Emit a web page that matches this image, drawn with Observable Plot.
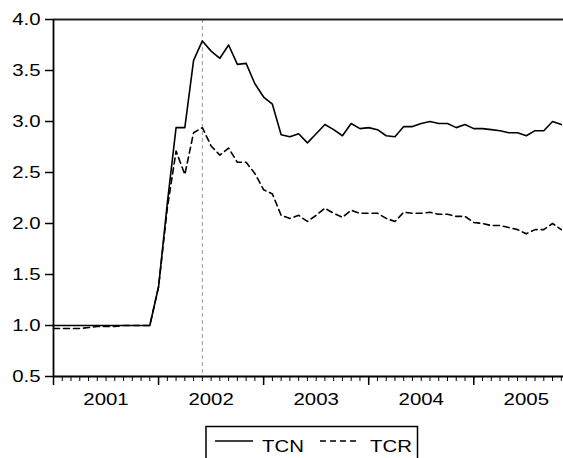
<!DOCTYPE html>
<html>
<head>
<meta charset="utf-8">
<script src="https://cdn.jsdelivr.net/npm/d3@7"></script>
<script src="https://cdn.jsdelivr.net/npm/@observablehq/plot@0.6"></script>
<style>
  html, body { margin: 0; padding: 0; background: #fff; }
  body { width: 563px; height: 458px; overflow: hidden; font-family: "Liberation Sans", Arial, sans-serif; }
  #legend { display: block; }
</style>
</head>
<body>
<div id="chart"></div>
<svg id="legend" width="563" height="42"></svg>
<script>
// Monthly observations starting 2001M01
const startYear = 2001;
const seriesNames = ["TCN", "TCR"];
const tcn = [1.00,1.00,1.00,1.00,1.00,1.00,1.00,1.00,1.00,1.00,1.00,1.00,
  1.38,2.20,2.94,2.94,3.60,3.79,3.69,3.62,3.75,3.56,3.57,3.37,
  3.24,3.17,2.87,2.85,2.88,2.79,2.88,2.97,2.92,2.86,2.98,2.93,
  2.94,2.92,2.86,2.85,2.95,2.95,2.98,3.00,2.98,2.98,2.94,2.97,
  2.93,2.93,2.92,2.91,2.89,2.89,2.86,2.91,2.91,3.00,2.97];
const tcr = [0.97,0.97,0.97,0.97,0.98,0.99,0.99,0.99,1.00,1.00,1.00,1.00,
  1.38,2.15,2.71,2.48,2.89,2.94,2.76,2.67,2.74,2.60,2.60,2.49,
  2.33,2.29,2.08,2.05,2.08,2.02,2.08,2.15,2.10,2.06,2.13,2.10,
  2.10,2.10,2.05,2.02,2.11,2.10,2.10,2.11,2.09,2.09,2.07,2.07,
  2.01,2.00,1.98,1.98,1.96,1.94,1.90,1.94,1.94,2.00,1.94];
const yearLabels = ["2001","2002","2003","2004","2005"];
const yTicks = [0.5,1.0,1.5,2.0,2.5,3.0,3.5,4.0];
const markerMonth = 17; // 2002M06 vertical reference

const t = i => startYear + i / 12;
const rows = [];
tcn.forEach((v, i) => rows.push({t: t(i), v, s: "TCN"}));
tcr.forEach((v, i) => rows.push({t: t(i), v, s: "TCR"}));

const xDomain = [startYear, startYear + 58.25 / 12];
const monthTicks = d3.range(0, 59).map(t);
const yearTicks = yearLabels.map(y => +y);
const midYearTicks = yearLabels.map(y => +y + 0.5);

const font = "Liberation Sans, Arial, sans-serif";
const FS = 17;
const stretch = " scale(1.2,1)";

const chart = Plot.plot({
  width: 563,
  height: 416,
  marginLeft: 53,
  marginRight: 0,
  marginTop: 19,
  marginBottom: 40,
  style: {fontFamily: font, fontSize: FS + "px", color: "#000", background: "#fff", overflow: "visible"},
  x: {domain: xDomain},
  y: {domain: [0.5, 4.0]},
  marks: [
    Plot.ruleX([t(markerMonth)], {stroke: "#999", strokeWidth: 1, strokeDasharray: "4,3"}),
    Plot.line(rows.filter(d => d.s === "TCN"), {x: "t", y: "v", stroke: "#000", strokeWidth: 1.6}),
    Plot.line(rows.filter(d => d.s === "TCR"), {x: "t", y: "v", stroke: "#000", strokeWidth: 1.6, strokeDasharray: "6,4"}),
    Plot.ruleY([4.0], {stroke: "#222", strokeWidth: 2}),
    Plot.ruleY([0.5], {stroke: "#000", strokeWidth: 1.8}),
    Plot.ruleX([xDomain[0]], {stroke: "#000", strokeWidth: 1.8, y1: 0.5, y2: 4.0}),
    Plot.axisY({ticks: yTicks, tickFormat: d3.format(".1f"), tickSize: 8, tickPadding: 5, label: null, strokeWidth: 1.5, fontSize: FS}),
    Plot.axisX({ticks: monthTicks, tickSize: 5, tickFormat: () => "", label: null, strokeWidth: 1}),
    Plot.axisX({ticks: yearTicks, tickSize: 9, tickFormat: () => "", label: null, strokeWidth: 1.5}),
    Plot.axisX({ticks: midYearTicks, tickSize: 0, tickPadding: 16, tickFormat: (d, i) => yearLabels[i], label: null, fontSize: FS})
  ]
});
// widen glyphs horizontally to match the reference's stretched lettering
d3.select(chart).selectAll("text").each(function() {
  const el = d3.select(this);
  const tr = el.attr("transform");
  if (tr) el.attr("transform", tr + stretch);
});
document.getElementById("chart").appendChild(chart);

// Legend
const lg = d3.select("#legend");
lg.append("rect").attr("x", 206).attr("y", 10.5).attr("width", 211.5).attr("height", 40)
  .attr("fill", "none").attr("stroke", "#000").attr("stroke-width", 1.5);
lg.append("line").attr("x1", 215).attr("x2", 253).attr("y1", 25).attr("y2", 25)
  .attr("stroke", "#000").attr("stroke-width", 1.3);
lg.append("text").attr("transform", "translate(262,35.5)" + stretch).attr("font-family", font).attr("font-size", FS).text(seriesNames[0]);
lg.append("line").attr("x1", 320).attr("x2", 360).attr("y1", 25).attr("y2", 25)
  .attr("stroke", "#000").attr("stroke-width", 1.3).attr("stroke-dasharray", "6,4");
lg.append("text").attr("transform", "translate(370,35.5)" + stretch).attr("font-family", font).attr("font-size", FS).text(seriesNames[1]);
</script>
</body>
</html>
